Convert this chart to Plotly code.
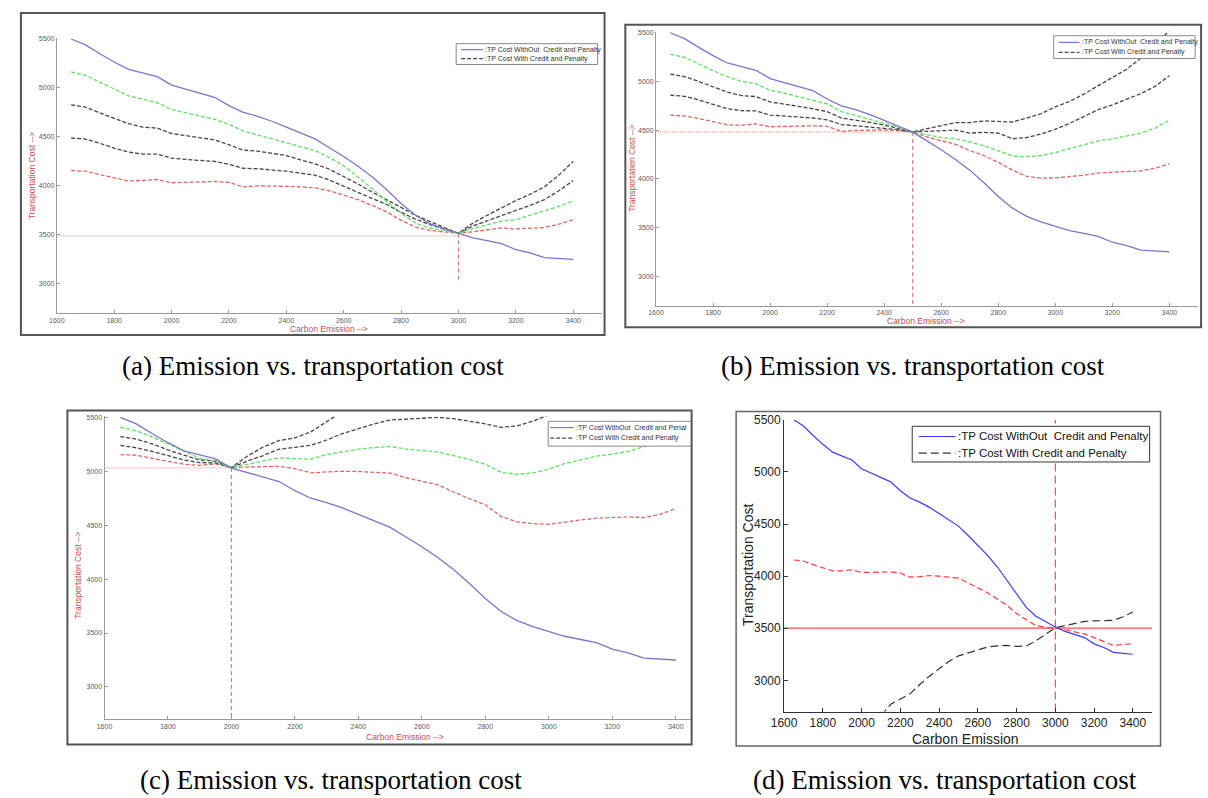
import plotly.graph_objects as go

W, H = 1208, 798

# ---------------- data ----------------
EMISSION = [1650, 1700, 1750, 1800, 1850, 1900, 1950, 2000, 2050, 2100, 2150, 2200,
            2250, 2300, 2350, 2400, 2450, 2500, 2550, 2600, 2650, 2700, 2750, 2800,
            2850, 2900, 2950, 3000, 3050, 3100, 3150, 3200, 3250, 3300, 3350, 3400]

COST_WITHOUT = [5500, 5440, 5350, 5265, 5190, 5150, 5115, 5030, 4990, 4950, 4905, 4820,
                4750, 4710, 4660, 4600, 4540, 4480, 4390, 4300, 4200, 4090, 3960, 3820,
                3700, 3615, 3560, 3512, 3470, 3440, 3410, 3350, 3315, 3268, 3258, 3250]

# (a) cap = 3000
A_GREEN = [5165, 5128, 5060, 4990, 4920, 4885, 4850, 4780, 4745, 4710, 4680, 4630,
           4560, 4520, 4480, 4445, 4405, 4360, 4290, 4205, 4090, 3970, 3840, 3720,
           3620, 3570, 3545, 3515, 3565, 3605, 3640, 3655, 3700, 3740, 3790, 3850]
A_BLACK1 = [4827, 4805, 4745, 4690, 4635, 4600, 4590, 4535, 4515, 4490, 4470, 4420,
            4365, 4355, 4335, 4310, 4265, 4225, 4170, 4095, 4020, 3935, 3860, 3780,
            3700, 3635, 3575, 3515, 3620, 3700, 3775, 3850, 3915, 3990, 4110, 4250]
A_BLACK2 = [4489, 4478, 4435, 4385, 4345, 4325, 4325, 4283, 4270, 4260, 4250, 4220,
            4180, 4175, 4165, 4150, 4130, 4110, 4060, 3995, 3935, 3870, 3810, 3730,
            3660, 3605, 3560, 3515, 3590, 3645, 3700, 3750, 3800, 3860, 3950, 4055]
A_RED = [4157, 4150, 4115, 4085, 4050, 4055, 4065, 4032, 4036, 4040, 4045, 4035,
         3990, 4000, 4000, 3995, 3990, 3980, 3950, 3905, 3860, 3800, 3735, 3650,
         3580, 3545, 3530, 3515, 3532, 3548, 3570, 3560, 3570, 3575, 3610, 3655]
A_REF_H_X = [1600, 3000]
A_REF_H_Y = [3490, 3490]
A_REF_V_X = [3000, 3000]
A_REF_V_Y = [3515, 3020]

# (b) cap = 2500
B_GREEN = [5280, 5248, 5180, 5110, 5050, 5000, 4975, 4910, 4880, 4845, 4810, 4770,
           4690, 4650, 4610, 4575, 4530, 4482, 4450, 4425, 4412, 4380, 4340, 4290,
           4235, 4228, 4240, 4270, 4310, 4350, 4390, 4410, 4440, 4470, 4520, 4604]
B_BLACK1 = [5076, 5050, 5000, 4945, 4890, 4855, 4845, 4790, 4770, 4745, 4720, 4690,
            4625, 4605, 4580, 4552, 4520, 4482, 4515, 4550, 4578, 4578, 4595, 4590,
            4584, 4625, 4670, 4740, 4795, 4870, 4955, 5040, 5125, 5240, 5380, 5520]
B_BLACK2 = [4859, 4848, 4810, 4765, 4720, 4700, 4698, 4655, 4643, 4632, 4625, 4605,
            4558, 4545, 4532, 4520, 4505, 4482, 4487, 4495, 4500, 4470, 4478, 4470,
            4412, 4425, 4460, 4510, 4570, 4640, 4710, 4760, 4820, 4875, 4950, 5059]
B_RED = [4655, 4645, 4620, 4590, 4555, 4550, 4565, 4535, 4538, 4543, 4545, 4540,
         4488, 4497, 4502, 4503, 4495, 4482, 4430, 4395, 4355, 4290, 4240, 4170,
         4090, 4025, 4008, 4010, 4022, 4038, 4060, 4068, 4070, 4082, 4110, 4153]
B_REF_H_X = [1600, 2500]
B_REF_H_Y = [4482, 4482]
B_REF_V_X = [2500, 2500]
B_REF_V_Y = [4482, 2700]

# (c) cap = 2000
C_GREEN = [5408, 5375, 5320, 5252, 5185, 5120, 5090, 5035, 5065, 5095, 5125, 5118,
           5112, 5155, 5180, 5205, 5220, 5230, 5206, 5195, 5180, 5145, 5110, 5065,
           4990, 4972, 4985, 5020, 5072, 5105, 5140, 5160, 5184, 5228, 5265, 5300]
C_BLACK1 = [5322, 5298, 5255, 5198, 5150, 5105, 5095, 5035, 5140, 5225, 5285, 5310,
            5365, 5460, 5560, 5650, None, None, None, None, None, None, None, None,
            None, None, None, None, None, None, None, None, None, None, None, None]
C_BLACK2 = [5240, 5218, 5185, 5145, 5105, 5080, 5078, 5035, 5095, 5145, 5205, 5222,
            5240, 5290, 5350, 5395, 5440, 5475, 5485, 5495, 5500, 5488, 5465, 5440,
            5408, 5420, 5465, 5525, 5580, 5640, None, None, None, None, None, None]
C_RED = [5154, 5150, 5120, 5092, 5065, 5055, 5068, 5035, 5038, 5042, 5046, 5025,
         4985, 4994, 5000, 4998, 4992, 4983, 4940, 4905, 4875, 4808, 4745, 4690,
         4580, 4530, 4515, 4508, 4530, 4548, 4565, 4572, 4577, 4570, 4600, 4654]
C_REF_H_X = [1600, 2000]
C_REF_H_Y = [5031, 5031]
C_REF_V_X = [2000, 2000]
C_REF_V_Y = [5031, 2700]

# (d) cap = 3000
D_RED = [4155, 4145, 4110, 4080, 4050, 4050, 4060, 4035, 4035, 4040, 4040, 4030,
         3990, 3995, 4005, 4000, 3990, 3980, 3935, 3885, 3840, 3780, 3720, 3640,
         3580, 3525, 3510, 3505, 3485, 3465, 3445, 3410, 3370, 3335, 3345, 3350]
D_BLACK = [None, None, None, None, None, None, None, None, None, 2660, 2770, 2820,
           2870, 2960, 3040, 3110, 3180, 3235, 3265, 3295, 3320, 3330, 3335, 3325,
           3330, 3380, 3440, 3505, 3525, 3545, 3565, 3570, 3570, 3575, 3610, 3655]
D_REF_H_X = [1600, 3500]
D_REF_H_Y = [3500, 3500]
D_REF_V_X = [3000, 3000]
D_REF_V_Y = [2700, 5500]

X_TICKS = [1600, 1800, 2000, 2200, 2400, 2600, 2800, 3000, 3200, 3400]
Y_TICKS = [3000, 3500, 4000, 4500, 5000, 5500]

LEG1 = ":TP Cost WithOut  Credit and Penalty"
LEG2 = ":TP Cost With Credit and Penalty"
CAPTIONS = ["(a) Emission vs. transportation cost", "(b) Emission vs. transportation cost",
            "(c) Emission vs. transportation cost", "(d) Emission vs. transportation cost"]

# ---------------- styling ----------------
BLUE = "#7878c8"
GREEN = "#66dd66"
BLACK = "#474747"
RED = "#d66a6a"
GUIDE = "#e07a7a"
GUIDE_DOT = "#f0a8a8"
TITLE_RED = "#cc4d4d"
SMALL_DASH = "4px,2px"

def px(x):
    return x / W

def py(y):
    return 1 - y / H

fig = go.Figure()
shapes = []
annotations = []
layout_axes = {}


def add_axes(i, x0, x1, y0, y1, xr, yr, tfont, lcolor, tlen):
    xa = "xaxis" if i == 1 else f"xaxis{i}"
    ya = "yaxis" if i == 1 else f"yaxis{i}"
    sfx = "" if i == 1 else str(i)
    layout_axes[xa] = dict(domain=[px(x0), px(x1)], range=xr, anchor="y" + sfx,
                           tickvals=X_TICKS, ticks="inside", ticklen=tlen, tickcolor=lcolor,
                           showline=True, linecolor=lcolor, linewidth=1, showgrid=False,
                           zeroline=False, tickfont=tfont, fixedrange=True)
    layout_axes[ya] = dict(domain=[py(y1), py(y0)], range=yr, anchor="x" + sfx,
                           tickvals=Y_TICKS, ticks="inside", ticklen=tlen, tickcolor=lcolor,
                           showline=True, linecolor=lcolor, linewidth=1, showgrid=False,
                           zeroline=False, tickfont=tfont, fixedrange=True)


def line(i, x, y, color, dash="solid", width=1.3):
    sfx = "" if i == 1 else str(i)
    fig.add_trace(go.Scatter(x=x, y=y, mode="lines", xaxis="x" + sfx, yaxis="y" + sfx,
                             line=dict(color=color, width=width, dash=dash),
                             showlegend=False, hoverinfo="skip", connectgaps=False))


def frame(x0, y0, x1, y1, color="#555555", width=2):
    shapes.append(dict(type="rect", xref="paper", yref="paper", x0=px(x0), x1=px(x1),
                       y0=py(y1), y1=py(y0), line=dict(color=color, width=width),
                       fillcolor="rgba(0,0,0,0)", layer="above"))


def legend(box, rows, sx, tx, size, color="#333333", bcolor="#888888"):
    x0, y0, x1, y1 = box
    shapes.append(dict(type="rect", xref="paper", yref="paper", x0=px(x0), x1=px(x1),
                       y0=py(y1), y1=py(y0), line=dict(color=bcolor, width=1),
                       fillcolor="white", layer="above"))
    for (ry, lc, dash, txt) in rows:
        shapes.append(dict(type="line", xref="paper", yref="paper", x0=px(sx[0]), x1=px(sx[1]),
                           y0=py(ry), y1=py(ry), line=dict(color=lc, width=1.2, dash=dash),
                           layer="above"))
        annotations.append(dict(x=px(tx), y=py(ry), xref="paper", yref="paper", text=txt,
                                showarrow=False, xanchor="left", yanchor="middle",
                                font=dict(size=size, color=color, family="Liberation Sans, Arial")))


def text(x, y, t, size, color, angle=0, family="Liberation Sans, Arial"):
    annotations.append(dict(x=px(x), y=py(y), xref="paper", yref="paper", text=t,
                            showarrow=False, xanchor="center", yanchor="middle", textangle=angle,
                            font=dict(size=size, color=color, family=family)))


small_font = dict(size=7, color="#5a5a5a", family="Liberation Sans, Arial")
axis_grey = "#9a9a9a"

# ---------- panel (a) ----------
add_axes(1, 44.3, 595.3, 31.3, 308.9, [1600, 3500], [2700, 5510], small_font, axis_grey, 3)
line(1, A_REF_H_X, A_REF_H_Y, GUIDE_DOT, "1px,1px", 1.2)
line(1, A_REF_V_X, A_REF_V_Y, GUIDE, "4px,3px", 1.2)
line(1, EMISSION, A_RED, RED, SMALL_DASH)
line(1, EMISSION, A_BLACK2, BLACK, SMALL_DASH)
line(1, EMISSION, A_BLACK1, BLACK, SMALL_DASH)
line(1, EMISSION, A_GREEN, GREEN, SMALL_DASH)
line(1, EMISSION, COST_WITHOUT, BLUE, "solid")
frame(8, 6, 598, 331)
legend((448, 37, 591, 58), [(43, BLUE, "solid", LEG1), (52, BLACK, SMALL_DASH, LEG2)],
       (453, 475), 475, 7)
text(319, 325, "Carbon Emission -->", 8.5, TITLE_RED)
text(19, 170, "Transportation Cost -->", 8.5, TITLE_RED, -90)

# ---------- panel (b) ----------
add_axes(2, 650, 1197.8, 25, 301.2, [1600, 3500], [2700, 5510], small_font, axis_grey, 3)
line(2, B_REF_H_X, B_REF_H_Y, GUIDE_DOT, "1px,1px", 1.2)
line(2, B_REF_V_X, B_REF_V_Y, GUIDE, "4px,3px", 1.2)
line(2, EMISSION, B_RED, RED, SMALL_DASH)
line(2, EMISSION, B_BLACK2, BLACK, SMALL_DASH)
line(2, EMISSION, B_BLACK1, BLACK, SMALL_DASH)
line(2, EMISSION, B_GREEN, GREEN, SMALL_DASH)
line(2, EMISSION, COST_WITHOUT, BLUE, "solid")
frame(619, 18, 1201, 323)
legend((1052, 29, 1195, 52), [(35.7, BLUE, "solid", LEG1), (45.7, BLACK, SMALL_DASH, LEG2)],
       (1057, 1078), 1079, 7)
text(923, 316.7, "Carbon Emission -->", 8.5, TITLE_RED)
text(625, 163, "Transportation Cost -->", 8.5, TITLE_RED, -90)

# ---------- panel (c) ----------
add_axes(3, 92.5, 686, 412.9, 718.6, [1600, 3450], [2700, 5510], small_font, axis_grey, 3)
line(3, C_REF_H_X, C_REF_H_Y, GUIDE_DOT, "1px,1px", 1.2)
line(3, C_REF_V_X, C_REF_V_Y, GUIDE, "4px,3px", 1.2)
line(3, EMISSION, C_RED, RED, SMALL_DASH)
line(3, EMISSION, C_BLACK2, BLACK, SMALL_DASH)
line(3, EMISSION, C_BLACK1, BLACK, SMALL_DASH)
line(3, EMISSION, C_GREEN, GREEN, SMALL_DASH)
line(3, EMISSION, COST_WITHOUT, BLUE, "solid")
legend((541, 418, 686, 443), [(424.3, BLUE, "solid", ":TP Cost WithOut  Credit and Penal"),
                              (435, BLACK, SMALL_DASH, LEG2)],
       (543, 567), 567, 7)
frame(55, 407, 686, 744)
text(396, 736.7, "Carbon Emission -->", 8.5, TITLE_RED)
text(65.5, 573, "Transportation Cost -->", 8.5, TITLE_RED, -90)

# ---------- panel (d) ----------
d_font = dict(size=12, color="#222222", family="Liberation Sans, Arial")
add_axes(4, 779.5, 1151.6, 416.5, 710.8, [1600, 3500], [2700, 5500], d_font, "#333333", 4)
line(4, D_REF_H_X, D_REF_H_Y, "#ff4a4a", "solid", 1.2)
line(4, D_REF_V_X, D_REF_V_Y, "#ff4a4a", "8px,4px", 1.2)
line(4, EMISSION, D_BLACK, "#333333", "8px,4px", 1.2)
line(4, EMISSION, D_RED, "#ff4040", "6px,3px", 1.2)
line(4, EMISSION, COST_WITHOUT, "#3c3cff", "solid", 1.2)
frame(731, 408, 1160, 745.5, "#666666", 1.5)
legend((909, 423, 1149, 459), [(433.3, "#3c3cff", "solid", LEG1),
                               (450, "#333333", "8px,4px", LEG2)],
       (915.6, 952.6), 953, 11.5, "#111111", "#333333")
text(963, 738, "Carbon Emission", 14, "#222222")
text(743, 563, "Transportation Cost", 14, "#222222", -90)

# ---------- captions ----------
cap_font = "Liberation Serif, Times New Roman, serif"
text(303.5, 362, CAPTIONS[0], 27, "#000000", family=cap_font)
text(909.5, 362, CAPTIONS[1], 27, "#000000", family=cap_font)
text(321, 780, CAPTIONS[2], 27, "#000000", family=cap_font)
text(942, 780, CAPTIONS[3], 27, "#000000", family=cap_font)

fig.update_layout(width=W, height=H, margin=dict(l=0, r=0, t=0, b=0),
                  paper_bgcolor="white", plot_bgcolor="white", showlegend=False,
                  shapes=shapes, annotations=annotations, **layout_axes)

fig.write_html("out.html", config={"displayModeBar": False},
               post_script="document.body.style.margin='0';document.body.style.overflow='hidden';")
